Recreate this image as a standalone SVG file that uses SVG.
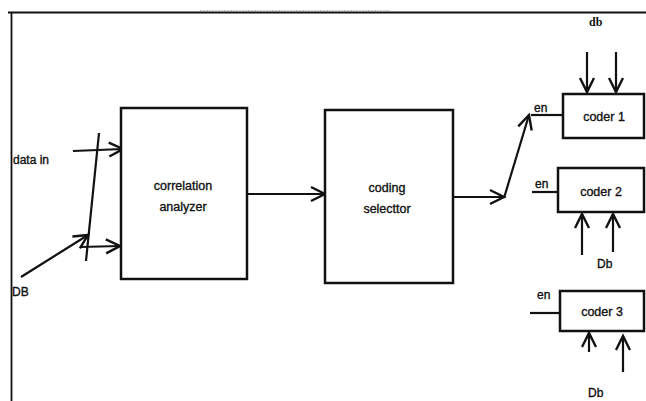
<svg xmlns="http://www.w3.org/2000/svg" width="646" height="401" viewBox="0 0 646 401">
  <style>
    .box { fill: #fff; stroke: #111; stroke-width: 2.5; }
    .wire { fill: none; stroke: #111; stroke-width: 2.2; }
    .lbl { font-family: "Liberation Sans", Arial, sans-serif; font-size: 12px; fill: #111; stroke: #111; stroke-width: 0.35; }
    .name { font-family: "Liberation Sans", Arial, sans-serif; font-size: 12.5px; fill: #111; stroke: #111; stroke-width: 0.35; text-anchor: middle; }
    .serif { font-family: "Liberation Serif", "Times New Roman", serif; font-size: 12px; fill: #111; font-weight: bold; }
  </style>
  <defs>
    <marker id="vee" markerUnits="userSpaceOnUse" markerWidth="20" markerHeight="20" viewBox="0 0 20 20" refX="17" refY="10" orient="auto">
      <path d="M3,3 L17,10 L3,17" fill="none" stroke="#111" stroke-width="2.4"/>
    </marker>
  </defs>

  <rect width="646" height="401" fill="#fff"/>

  <!-- outer frame -->
  <g id="frame">
    <path d="M8,12.5 H646 M11.5,12 V401" fill="none" stroke="#111" stroke-width="1.8"/>
    <path d="M200,11 H390" fill="none" stroke="#888" stroke-width="1" stroke-dasharray="2,1"/>
  </g>

  <g id="connectors">
    <!-- inputs to the analyzer -->
    <path class="wire" d="M73,151 L123,149" marker-end="url(#vee)"/>
    <path class="wire" d="M99,133 L86,261"/>
    <path class="wire" d="M80,247 L120,246" marker-end="url(#vee)"/>
    <path class="wire" d="M21,277 L88,235" marker-end="url(#vee)"/>
    <!-- analyzer to selector -->
    <path class="wire" d="M247,194 L325,194" marker-end="url(#vee)"/>
    <!-- selector out, up to coder 1 enable -->
    <path class="wire" d="M453,197 L504,197" marker-end="url(#vee)"/>
    <path class="wire" d="M504,198 L529,115" marker-end="url(#vee)"/>
    <!-- enable lines -->
    <path class="wire" d="M531,115 L563,115"/>
    <path class="wire" d="M532,192 L558,192"/>
    <path class="wire" d="M530,313 L559,313"/>
    <!-- db into coder 1 -->
    <path class="wire" d="M587,52 L587,92" marker-end="url(#vee)"/>
    <path class="wire" d="M616,52 L616,92" marker-end="url(#vee)"/>
    <!-- Db into coder 2 -->
    <path class="wire" d="M582,255 L582,214" marker-end="url(#vee)"/>
    <path class="wire" d="M613,252 L613,214" marker-end="url(#vee)"/>
    <!-- Db into coder 3 -->
    <path class="wire" d="M589,352 L589,333" marker-end="url(#vee)"/>
    <path class="wire" d="M623,372 L623,336" marker-end="url(#vee)"/>
  </g>

  <g id="correlation-analyzer">
    <rect class="box" x="121" y="108" width="126" height="171"/>
    <text class="name" x="183" y="190">correlation</text>
    <text class="name" x="183" y="211">analyzer</text>
  </g>

  <g id="coding-selector">
    <rect class="box" x="325" y="110" width="128" height="173"/>
    <text class="name" x="387" y="192">coding</text>
    <text class="name" x="387" y="213">selecttor</text>
  </g>

  <g id="coder-1">
    <rect class="box" x="563" y="94" width="81" height="44"/>
    <text class="name" x="604" y="121">coder 1</text>
    <text class="lbl" x="534" y="112">en</text>
  </g>

  <g id="coder-2">
    <rect class="box" x="558" y="168" width="86" height="44"/>
    <text class="name" x="601" y="196">coder 2</text>
    <text class="lbl" x="535" y="188">en</text>
  </g>

  <g id="coder-3">
    <rect class="box" x="560" y="291" width="84" height="40"/>
    <text class="name" x="602" y="316">coder 3</text>
    <text class="lbl" x="537" y="299">en</text>
  </g>

  <g id="labels">
    <text class="lbl" x="13" y="164">data in</text>
    <text class="lbl" x="12" y="296">DB</text>
    <text class="serif" x="589" y="26">db</text>
    <text class="lbl" x="597" y="268">Db</text>
    <text class="lbl" x="588" y="397">Db</text>
  </g>
</svg>
